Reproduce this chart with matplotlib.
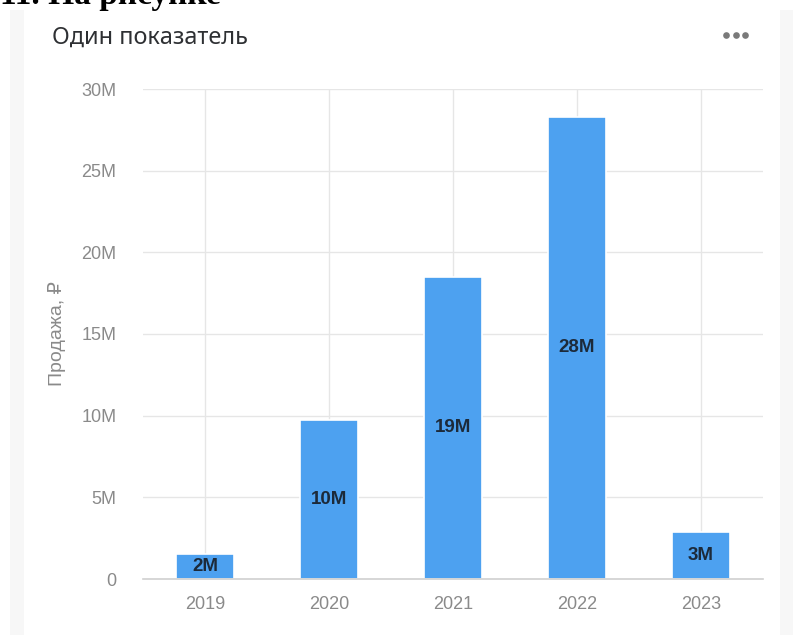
import matplotlib
matplotlib.use("Agg")
import matplotlib.pyplot as plt
from matplotlib.patches import Rectangle
from matplotlib.lines import Line2D

years = ["2019", "2020", "2021", "2022", "2023"]
sales_m = [1.55, 9.75, 18.5, 28.3, 2.9]
bar_labels = ["2M", "10M", "19M", "28M", "3M"]
yticks_m = [0, 5, 10, 15, 20, 25, 30]
ytick_labels = ["0", "5M", "10M", "15M", "20M", "25M", "30M"]

plt.rcParams['font.family'] = ['Liberation Sans', 'DejaVu Sans']

fig = plt.figure(figsize=(8.03, 6.35), dpi=100)
fig.patch.set_facecolor("white")

# card side strips
fig.patches.append(Rectangle((10/803, 0), 14/803, 1 - 10/635, transform=fig.transFigure,
                             facecolor="#f7f7f7", edgecolor="none", zorder=0))
fig.patches.append(Rectangle((780/803, 0), 13/803, 1 - 10/635, transform=fig.transFigure,
                             facecolor="#f7f7f7", edgecolor="none", zorder=0))

# cut-off heading
fig.text(0.0, 1 - 4/635, "11. На рисунке", fontsize=24, fontweight="bold",
         family=["Liberation Serif", "DejaVu Serif"], va="baseline", ha="left", color="black")

fig.text(52/803, 1 - 38/635, "Один показатель", fontsize=16.9,
         family=["Noto Sans", "DejaVu Sans"], color="#2e3033", va="center", ha="left")
fig.add_artist(Line2D([726/803, 736/803, 745/803], [1 - 35/635] * 3, transform=fig.transFigure,
                      linestyle="none", marker="o", markersize=4.8, color="#7a7a7a",
                      markeredgewidth=0))

ax = fig.add_axes([143/803, 1 - 579/635, 620/803, 490/635])
x = list(range(len(years)))
ax.bar(x, sales_m, width=0.47, color="#4da1f0", edgecolor="white", linewidth=1.2, zorder=3)
for xi, v, lab in zip(x, sales_m, bar_labels):
    ax.text(xi, v / 2, lab, ha="center", va="center", fontsize=13.5, fontweight="bold",
            color="#1c2a3a", zorder=4)

ax.set_xlim(-0.5, len(years) - 0.5)
ax.set_ylim(0, 30)
ax.set_xticks(x)
ax.set_xticklabels(years)
ax.set_yticks(yticks_m)
ax.set_yticklabels(ytick_labels)
ax.grid(True, color="#e6e6e6", linewidth=1.0, zorder=0)
for s in ["top", "right", "left"]:
    ax.spines[s].set_visible(False)
ax.spines["bottom"].set_color("#d0d0d0")
ax.spines["bottom"].set_linewidth(1.2)
ax.spines["bottom"].set_zorder(5)
ax.tick_params(axis="both", length=0, colors="#8a8a8a", labelsize=13)
ax.tick_params(axis="x", pad=12)
ax.tick_params(axis="y", pad=19)
ax.set_ylabel("Продажа, ₽", fontsize=14, color="#8a8a8a")
ax.yaxis.set_label_coords(-0.139, 0.5)
ax.yaxis.label.set_verticalalignment("center")

fig.savefig("out.png", dpi=100)
